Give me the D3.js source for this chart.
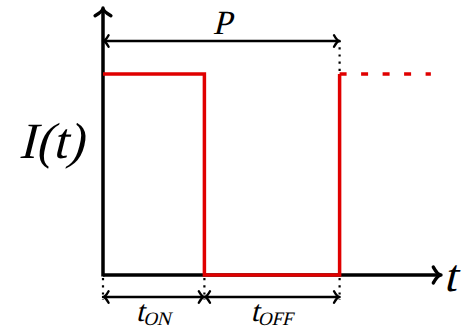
<!DOCTYPE html>
<html>
<head>
<meta charset="utf-8">
<script src="https://cdn.jsdelivr.net/npm/d3@7"></script>
<style>
  body { margin: 0; background: #fff; }
  svg text { font-family: 'Liberation Serif', 'DejaVu Serif', serif; font-style: normal; }
</style>
</head>
<body>
<div id="container"></div>
<script>
// pulse train: on for tOn, period P
const tOn = 3;
const period = 7;
const signalTimes = [0, 3, 3, 7, 7];
const signalLevels = [1, 1, 0, 0, 1];
const dashedTimes = [7, 9.7];
const dashedLevels = [1, 1];
const tMax = 10;

const width = 463;
const height = 328;

const svg = d3.select('#container')
              .append('svg')
              .attr('width', width)
              .attr('height', height);

const x = d3.scaleLinear().domain([0, tMax]).range([103, 441]);
const y = d3.scaleLinear().domain([0, 1]).range([275, 74]);

function arrowHead(sel, xTip, yTip, dir, size, sw) {
    // dir: angle in degrees of arrow direction
    const a = dir * Math.PI / 180;
    const pts = [-0.8, 0.8].map(s => {
        const ang = a + Math.PI + s;
        return [xTip + size * Math.cos(ang), yTip + size * Math.sin(ang)];
    });
    const cx = xTip - 0.3 * size * Math.cos(a);
    const cy = yTip - 0.3 * size * Math.sin(a);
    sel.append('path')
       .attr('d', `M${pts[0][0]},${pts[0][1]} Q${cx},${cy} ${xTip},${yTip} Q${cx},${cy} ${pts[1][0]},${pts[1][1]}`)
       .attr('fill', 'none')
       .attr('stroke', '#000')
       .attr('stroke-width', sw)
       .attr('stroke-linecap', 'round')
       .attr('stroke-linejoin', 'round');
}

// dotted guide lines
const dotted = [
    [period, y(1), 41],
    [0, y(0), 300],
    [tOn, y(0), 300],
    [period, y(0), 300]
];
svg.selectAll('line.guide')
   .data(dotted)
   .enter()
   .append('line')
   .attr('class', 'guide')
   .attr('x1', d => x(d[0]))
   .attr('x2', d => x(d[0]))
   .attr('y1', d => d[1])
   .attr('y2', d => d[2])
   .attr('stroke', '#000')
   .attr('stroke-width', 2.2)
   .attr('stroke-dasharray', '2.2,5')
   .attr('stroke-dashoffset', -3);

// axes
svg.append('line')
   .attr('x1', x(0)).attr('x2', x(0))
   .attr('y1', y(0) + 1.5).attr('y2', 9)
   .attr('stroke', '#000').attr('stroke-width', 3.5);
arrowHead(svg, x(0), 8, -90, 11, 3.4);

svg.append('line')
   .attr('x1', x(0)).attr('x2', x(tMax) - 1)
   .attr('y1', y(0)).attr('y2', y(0))
   .attr('stroke', '#000').attr('stroke-width', 3.5);
arrowHead(svg, x(tMax), y(0), 0, 11, 3.4);

// pulse signal
const line = d3.line().x(d => x(d[0])).y(d => y(d[1]));
svg.append('path')
   .datum(d3.zip(signalTimes, signalLevels))
   .attr('d', line)
   .attr('fill', 'none')
   .attr('stroke', '#e00000')
   .attr('stroke-width', 3.5);

svg.append('path')
   .datum(d3.zip(dashedTimes, dashedLevels))
   .attr('d', line)
   .attr('fill', 'none')
   .attr('stroke', '#e00000')
   .attr('stroke-width', 3.5)
   .attr('stroke-dasharray', '7,14.5');

// dimension arrows
const dims = [
    [0, period, 41],
    [0, tOn, 297],
    [tOn, period, 297]
];
dims.forEach(d => {
    svg.append('line')
       .attr('x1', x(d[0]) + 1).attr('x2', x(d[1]) - 1)
       .attr('y1', d[2]).attr('y2', d[2])
       .attr('stroke', '#000').attr('stroke-width', 2.4);
    arrowHead(svg, x(d[0]), d[2], 180, 8, 2.4);
    arrowHead(svg, x(d[1]), d[2], 0, 8, 2.4);
});

// labels, slanted by hand
function label(xp, yp, size, str, anchor) {
    return svg.append('text')
              .attr('transform', `translate(${xp},${yp}) skewX(-14)`)
              .attr('text-anchor', anchor || 'middle')
              .attr('font-size', size)
              .text(str);
}

label(222, 34, 34, 'P');
label(51, 158, 51, 'I(t)');
label(450, 291, 46, 't');

const subs = [[tOn / 2, 'ON'], [(tOn + period) / 2, 'OFF']];
subs.forEach(s => {
    const t = label(x(s[0]), 321, 30, null);
    t.append('tspan').text('t');
    t.append('tspan').attr('font-size', 19).attr('dy', 4).text(s[1]);
});
</script>
</body>
</html>
